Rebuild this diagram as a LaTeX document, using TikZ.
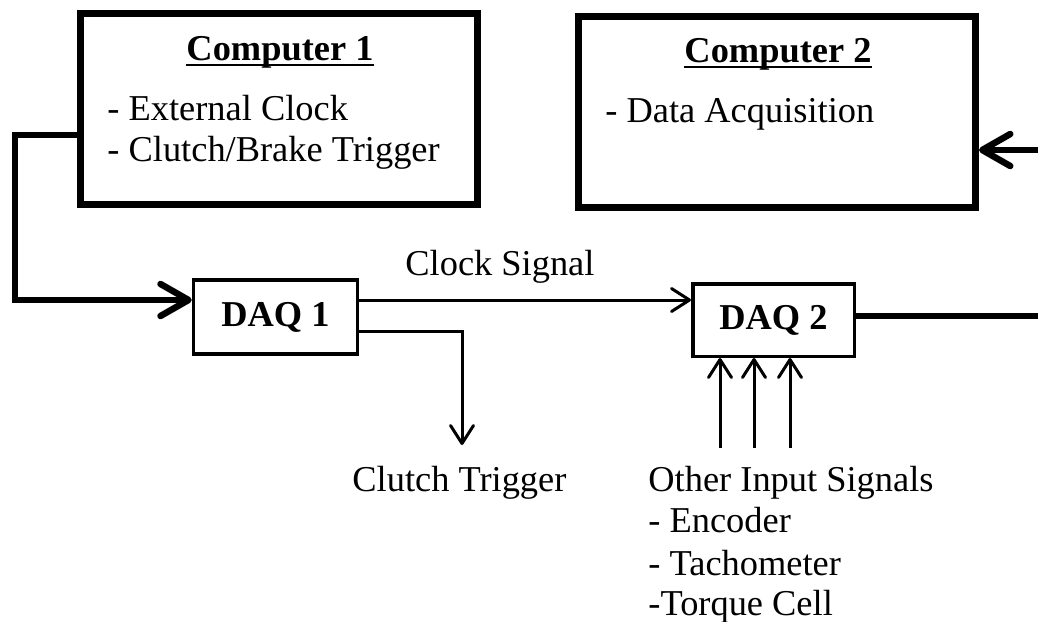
\documentclass[tikz,border=0pt]{standalone}
\usepackage{fontspec}
\setmainfont{Liberation Serif}
\usetikzlibrary{arrows.meta}

\begin{document}
\begin{tikzpicture}[x=0.5pt,y=-0.5pt,
  every node/.style={font=\fontsize{18.2}{21}\selectfont, inner sep=0pt},
  pcbox/.style={draw, line width=3.5pt, minimum width=198.5pt, minimum height=95.5pt},
  daqbox/.style={draw, line width=1.75pt, minimum width=82pt, minimum height=37pt, font=\fontsize{18.2}{21}\selectfont\bfseries},
  bus/.style={line width=3.25pt, line join=miter},
  busarrow/.style={bus, -{Straight Barb[length=14pt,width=16pt,round]}},
  sig/.style={line width=1.5pt, -{Straight Barb[length=9pt,width=11.5pt,round]}},
  txt/.style={anchor=base west},
  ttl/.style={anchor=base, font=\fontsize{18.2}{21}\selectfont\bfseries}]
\clip (0,0) rectangle (1038,621);

\node[pcbox] (comp1) at (279,109) {};
\node[pcbox] (comp2) at (777,111.5) {};
\node[ttl] (title1) at (280,60) {Computer 1};
\node[ttl] (title2) at (778,62) {Computer 2};
\draw[line width=1pt] ([yshift=-2.5pt]title1.base west) -- ([yshift=-2.5pt]title1.base east);
\draw[line width=1pt] ([yshift=-2.5pt]title2.base west) -- ([yshift=-2.5pt]title2.base east);
\node[txt] (ext) at (107,120) {- External Clock};
\node[txt] (brk) at (107,161) {- Clutch/Brake Trigger};
\node[txt] (acq) at (605,122) {- Data Acquisition};

\node[daqbox] (daq1) at (275.5,317) {DAQ 1};
\node[daqbox, minimum width=80.75pt, minimum height=36.25pt] (daq2) at (773.5,320) {DAQ 2};

\node[txt] (clk) at (405,275) {Clock Signal};
\node[txt] (clt) at (352,491) {Clutch Trigger};
\node[txt] (oth) at (648,491) {Other Input Signals};
\node[txt] (enc) at (648,532) {- Encoder};
\node[txt] (tach) at (648,575) {- Tachometer};
\node[txt] (trq) at (648,615) {-Torque Cell};

\coordinate (ctend) at (462,445);
\coordinate (in1) at (720,448);
\coordinate (in2) at (754,448);
\coordinate (in3) at (790,448);

\draw[busarrow] (comp1.west |- 0,135) -| (15,300) -- (daq1.west |- 0,300);
\draw[sig] (daq1.east |- 0,300) -- (daq2.west |- 0,300);
\draw[sig] (daq1.east |- 0,331) -| (ctend);
\foreach \p in {in1,in2,in3}
  \draw[sig] (\p) -- (\p |- daq2.south);
\draw[busarrow] (daq2.east |- 0,316) -- (1060,316) |- (comp2.east |- 0,150);

\end{tikzpicture}
\end{document}
